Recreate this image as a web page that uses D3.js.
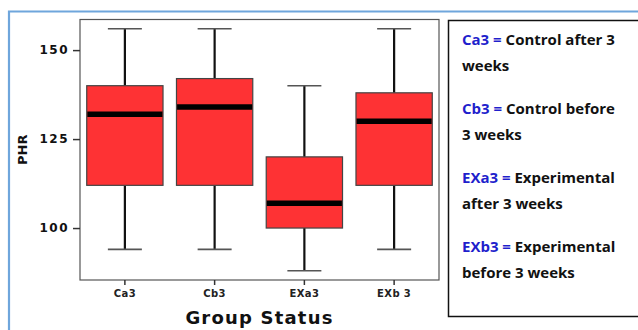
<!DOCTYPE html>
<html>
<head>
<meta charset="utf-8">
<script src="https://cdn.jsdelivr.net/npm/d3@7"></script>
<style>
  html, body { margin: 0; padding: 0; background: #fff; }
  svg { display: block; }
</style>
</head>
<body>
<svg id="chart" width="638" height="330"></svg>
<script>
// PHR by group: five-number summaries per group
const groups   = ["Ca3", "Cb3", "EXa3", "EXb3"];
const groupTickLabels = ["Ca3", "Cb3", "EXa3", "EXb 3"];
const whiskerLow  = [94, 94, 88, 94];
const boxLow      = [112, 112, 100, 112];
const medians     = [132, 134, 107, 130];
const boxHigh     = [140, 142, 120, 138];
const whiskerHigh = [156, 156, 140, 156];
const yTicks = [100, 125, 150];

// legend entries: code and its description, split in two lines
const legendCodes = ["Ca3 =", "Cb3 =", "EXa3 =", "EXb3 ="];
const legendLine1 = ["Control after 3", "Control before", "Experimental", "Experimental"];
const legendLine2 = ["weeks", "3 weeks", "after 3 weeks", "before 3 weeks"];

const svg = d3.select("#chart");

// outer light-blue frame (top and left edges)
svg.append("path")
  .attr("d", "M9,330 V11.5 H640")
  .attr("fill", "none")
  .attr("stroke", "#6fa6dc")
  .attr("stroke-width", 2.2);

const plot = { left: 80, top: 19.5, right: 439, bottom: 280 };

const x = d3.scaleBand()
  .domain(groups)
  .range([plot.left, plot.right])
  .paddingInner(0.15)
  .paddingOuter(0.075);

const y = d3.scaleLinear()
  .domain([85.4, 158.6])
  .range([plot.bottom, plot.top]);

// plot frame
svg.append("rect")
  .attr("x", plot.left).attr("y", plot.top)
  .attr("width", plot.right - plot.left)
  .attr("height", plot.bottom - plot.top)
  .attr("fill", "#fff")
  .attr("stroke", "#555")
  .attr("stroke-width", 1.2);

// y axis
const yAxis = svg.append("g")
  .attr("transform", `translate(${plot.left},0)`)
  .call(d3.axisLeft(y).tickValues(yTicks).tickSize(7).tickPadding(4));
yAxis.select(".domain").remove();
yAxis.selectAll(".tick line").attr("stroke", "#333").attr("stroke-width", 1.5);
yAxis.selectAll(".tick text")
  .attr("font-family", "DejaVu Sans")
  .attr("font-weight", "bold")
  .attr("font-size", 12)
  .attr("letter-spacing", 1.5)
  .attr("fill", "#111");

// x axis
const xAxis = svg.append("g")
  .attr("transform", `translate(0,${plot.bottom})`)
  .call(d3.axisBottom(x).tickSize(5).tickPadding(5)
    .tickFormat((d, i) => groupTickLabels[i]));
xAxis.select(".domain").remove();
xAxis.selectAll(".tick line").attr("stroke", "#333").attr("stroke-width", 1.5);
xAxis.selectAll(".tick text")
  .attr("font-family", "DejaVu Sans")
  .attr("font-weight", "bold")
  .attr("font-size", 10)
  .attr("letter-spacing", 0.4)
  .attr("fill", "#222");

// axis titles
svg.append("text")
  .attr("x", (plot.left + plot.right) / 2)
  .attr("y", 324)
  .attr("text-anchor", "middle")
  .attr("font-family", "DejaVu Sans")
  .attr("font-weight", "bold")
  .attr("font-size", 18)
  .attr("letter-spacing", 1.2)
  .attr("fill", "#111")
  .text("Group Status");

svg.append("text")
  .attr("transform", `translate(27,${(plot.top + plot.bottom) / 2}) rotate(-90)`)
  .attr("text-anchor", "middle")
  .attr("font-family", "DejaVu Sans")
  .attr("font-weight", "bold")
  .attr("font-size", 13)
  .attr("fill", "#111")
  .text("PHR");

// boxes
const data = groups.map((g, i) => ({
  g, lo: whiskerLow[i], q1: boxLow[i], med: medians[i], q3: boxHigh[i], hi: whiskerHigh[i]
}));

const bw = x.bandwidth();
const capW = 34;
const box = svg.append("g").selectAll("g").data(data).join("g")
  .attr("transform", d => `translate(${x(d.g) + bw / 2},0)`);

// whisker stems
box.append("line")
  .attr("x1", 0).attr("x2", 0)
  .attr("y1", d => y(d.hi)).attr("y2", d => y(d.q3))
  .attr("stroke", "#111").attr("stroke-width", 2.2);
box.append("line")
  .attr("x1", 0).attr("x2", 0)
  .attr("y1", d => y(d.q1)).attr("y2", d => y(d.lo))
  .attr("stroke", "#111").attr("stroke-width", 2.2);

// whisker caps
box.append("line")
  .attr("x1", -capW / 2).attr("x2", capW / 2)
  .attr("y1", d => y(d.hi)).attr("y2", d => y(d.hi))
  .attr("stroke", "#555").attr("stroke-width", 1.6);
box.append("line")
  .attr("x1", -capW / 2).attr("x2", capW / 2)
  .attr("y1", d => y(d.lo)).attr("y2", d => y(d.lo))
  .attr("stroke", "#555").attr("stroke-width", 1.6);

// interquartile box
box.append("rect")
  .attr("x", -bw / 2).attr("width", bw)
  .attr("y", d => y(d.q3))
  .attr("height", d => y(d.q1) - y(d.q3))
  .attr("fill", "#fe3234")
  .attr("stroke", "#444")
  .attr("stroke-width", 1.2);

// median
box.append("line")
  .attr("x1", -bw / 2 + 0.6).attr("x2", bw / 2 - 0.6)
  .attr("y1", d => y(d.med)).attr("y2", d => y(d.med))
  .attr("stroke", "#000").attr("stroke-width", 5.5);

// legend box
svg.append("rect")
  .attr("x", 448.5).attr("y", 20.5)
  .attr("width", 200).attr("height", 296)
  .attr("fill", "#fff")
  .attr("stroke", "#111")
  .attr("stroke-width", 1.5);

const legend = svg.append("g")
  .attr("font-family", "Open Sans")
  .attr("font-weight", "bold")
  .attr("font-size", 15);

legendCodes.forEach((code, i) => {
  const y0 = 45 + i * 69;
  const t1 = legend.append("text").attr("x", 462).attr("y", y0);
  t1.append("tspan").attr("fill", "#1f1fcc").text(code + " ");
  t1.append("tspan").attr("fill", "#111").text(legendLine1[i]);
  legend.append("text").attr("x", 462).attr("y", y0 + 26)
    .attr("fill", "#111").text(legendLine2[i]);
});
</script>
</body>
</html>
